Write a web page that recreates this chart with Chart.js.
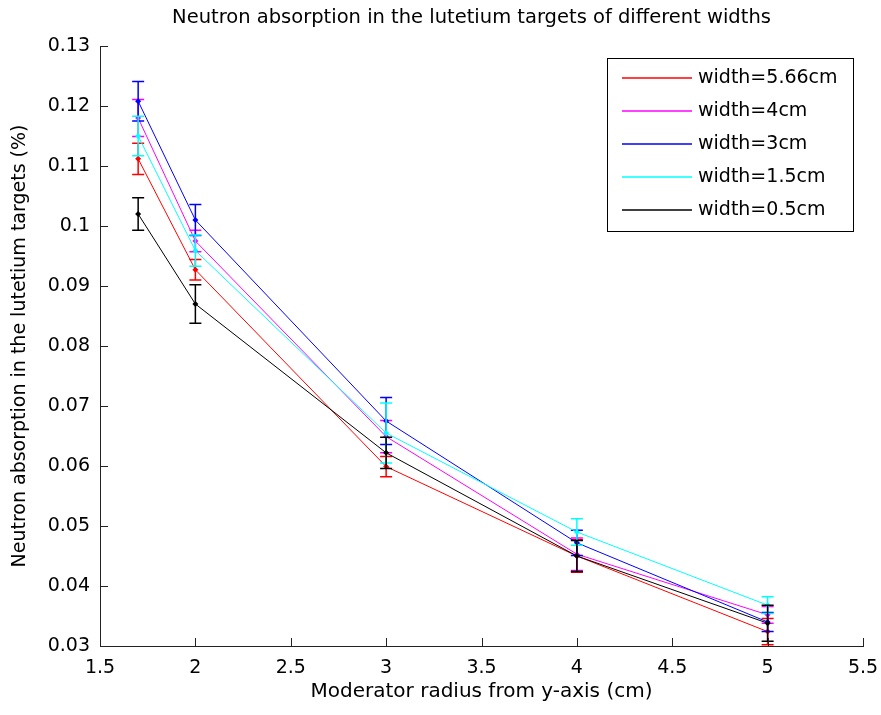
<!DOCTYPE html>
<html>
<head>
<meta charset="utf-8">
<title>Neutron absorption</title>
<script src="https://cdn.jsdelivr.net/npm/chart.js@4/dist/chart.umd.min.js"></script>
<style>
  html, body { margin: 0; padding: 0; background: #fff; }
  canvas { display: block; }
</style>
</head>
<body>
<canvas id="grafico" width="881" height="715"></canvas>
<script>
// moderator radius (cm)
const raios = [1.7, 2, 3, 4, 5];

const titulo = 'Neutron absorption in the lutetium targets of different widths';
const legendas = ['width=5.66cm', 'width=4cm', 'width=3cm', 'width=1.5cm', 'width=0.5cm'];
const cores = ['#ff0000', '#ff00ff', '#0000ff', '#00ffff', '#000000'];

// absorption (%) per target width
const largura566 = [0.1112, 0.0927, 0.0599, 0.0450, 0.0324];
const largura4   = [0.1180, 0.0975, 0.0649, 0.0453, 0.0352];
const largura3   = [0.1208, 0.1010, 0.0675, 0.0472, 0.0340];
const largura15  = [0.1150, 0.0959, 0.0655, 0.0490, 0.0368];
const largura05  = [0.1020, 0.0870, 0.0622, 0.0450, 0.0338];

// error bar half-heights
const erro566 = [0.0026, 0.0017, 0.0017, 0.0027, 0.0022];
const erro4   = [0.0031, 0.0018, 0.0027, 0.0027, 0.0014];
const erro3   = [0.0033, 0.0026, 0.0039, 0.0021, 0.0016];
const erro15  = [0.0033, 0.0026, 0.0050, 0.0022, 0.0014];
const erro05  = [0.0027, 0.0032, 0.0026, 0.0026, 0.0030];

const series = [largura566, largura4, largura3, largura15, largura05];
const erros = [erro566, erro4, erro3, erro15, erro05];

const fonte = 'DejaVu Sans, sans-serif';

// vertical bars with caps, drawn right after each line so later series sit on top
const errorBarsPlugin = {
    id: 'errorBars',
    afterDatasetDraw(chart, args) {
        const ctx = chart.ctx;
        const yScale = chart.scales.y;
        const i = args.index;
        const cap = 6;
        ctx.save();
        ctx.strokeStyle = cores[i];
        ctx.lineWidth = 1.5;
        args.meta.data.forEach((ponto, j) => {
            const v = series[i][j];
            const e = erros[i][j];
            const yTop = yScale.getPixelForValue(v + e);
            const yBot = yScale.getPixelForValue(v - e);
            ctx.beginPath();
            ctx.moveTo(ponto.x, yTop);
            ctx.lineTo(ponto.x, yBot);
            ctx.moveTo(ponto.x - cap, yTop);
            ctx.lineTo(ponto.x + cap, yTop);
            ctx.moveTo(ponto.x - cap, yBot);
            ctx.lineTo(ponto.x + cap, yBot);
            ctx.stroke();
        });
        ctx.restore();
    }
};

// tick marks pointing into the plot, plus the title centred over the axes
const innerTicksPlugin = {
    id: 'innerTicks',
    afterDraw(chart) {
        const ctx = chart.ctx;
        const {x, y} = chart.scales;
        const area = chart.chartArea;
        const len = 8;
        ctx.save();
        ctx.strokeStyle = '#222';
        ctx.lineWidth = 1;
        ctx.beginPath();
        x.ticks.forEach(t => {
            const px = Math.round(x.getPixelForValue(t.value)) + 0.5;
            ctx.moveTo(px, area.bottom);
            ctx.lineTo(px, area.bottom - len);
        });
        y.ticks.forEach(t => {
            const py = Math.round(y.getPixelForValue(t.value)) + 0.5;
            ctx.moveTo(area.left, py);
            ctx.lineTo(area.left + len, py);
        });
        ctx.stroke();

        ctx.fillStyle = '#000';
        ctx.font = '19.5px ' + fonte;
        ctx.textAlign = 'center';
        ctx.textBaseline = 'middle';
        ctx.fillText(titulo, (area.left + area.right) / 2 - 10, 18);
        ctx.restore();
    }
};

// boxed legend in the upper right corner of the plot
const boxLegendPlugin = {
    id: 'boxLegend',
    afterDraw(chart) {
        const ctx = chart.ctx;
        const area = chart.chartArea;
        const w = 246, rowH = 33;
        const h = 173;
        const left = area.right - 10 - w;
        const top = area.top + 12;
        ctx.save();
        ctx.fillStyle = '#fff';
        ctx.fillRect(left, top, w, h);
        ctx.strokeStyle = '#000';
        ctx.lineWidth = 1;
        ctx.strokeRect(Math.round(left) + 0.5, Math.round(top) + 0.5, w, h);
        ctx.font = '19px ' + fonte;
        ctx.textBaseline = 'middle';
        ctx.fillStyle = '#000';
        legendas.forEach((txt, i) => {
            const cy = top + 20 + i * rowH;
            ctx.strokeStyle = cores[i];
            ctx.lineWidth = 1.5;
            ctx.beginPath();
            ctx.moveTo(left + 15, Math.round(cy));
            ctx.lineTo(left + 85, Math.round(cy));
            ctx.stroke();
            ctx.fillText(txt, left + 91, cy);
        });
        ctx.restore();
    }
};

const formatarTick = v => String(Number(v.toFixed(2)));

const datasets = series.map((valores, i) => ({
    label: legendas[i],
    data: valores.map((v, j) => ({x: raios[j], y: v})),
    borderColor: cores[i],
    backgroundColor: cores[i],
    borderWidth: 1,
    pointStyle: 'rectRot',
    pointRadius: 3,
    pointBorderWidth: 0,
    tension: 0,
    fill: false,
    order: series.length - i
}));

const ctx = document.getElementById('grafico').getContext('2d');
new Chart(ctx, {
    type: 'line',
    data: { datasets: datasets },
    options: {
        responsive: false,
        animation: false,
        layout: { padding: { left: 0, right: 18, top: 46, bottom: 0 } },
        plugins: {
            legend: { display: false },
            tooltip: { enabled: false },
            title: { display: false }
        },
        scales: {
            x: {
                type: 'linear',
                min: 1.5,
                max: 5.5,
                ticks: { stepSize: 0.5, color: '#000', padding: 11, font: { family: fonte, size: 19 }, callback: formatarTick },
                grid: { drawOnChartArea: false, drawTicks: false },
                border: { color: '#222', width: 1 },
                title: {
                    display: true,
                    text: 'Moderator radius from y-axis (cm)',
                    color: '#000',
                    font: { family: fonte, size: 20 },
                    padding: { top: 0, bottom: 11 }
                },
                afterFit(scale) {
                    scale.height = 69;
                    scale.paddingLeft = 0;
                    scale.paddingRight = 0;
                }
            },
            y: {
                min: 0.03,
                max: 0.13,
                ticks: { stepSize: 0.01, color: '#000', padding: 10, font: { family: fonte, size: 19 }, callback: formatarTick },
                grid: { drawOnChartArea: false, drawTicks: false },
                border: { color: '#222', width: 1 },
                title: {
                    display: true,
                    text: 'Neutron absorption in the lutetium targets (%)',
                    color: '#000',
                    font: { family: fonte, size: 19 },
                    padding: { top: 9, bottom: 0 }
                },
                afterFit(scale) {
                    scale.width = 100;
                    scale.paddingTop = 0;
                    scale.paddingBottom = 0;
                }
            }
        }
    },
    plugins: [errorBarsPlugin, innerTicksPlugin, boxLegendPlugin]
});
</script>
</body>
</html>
